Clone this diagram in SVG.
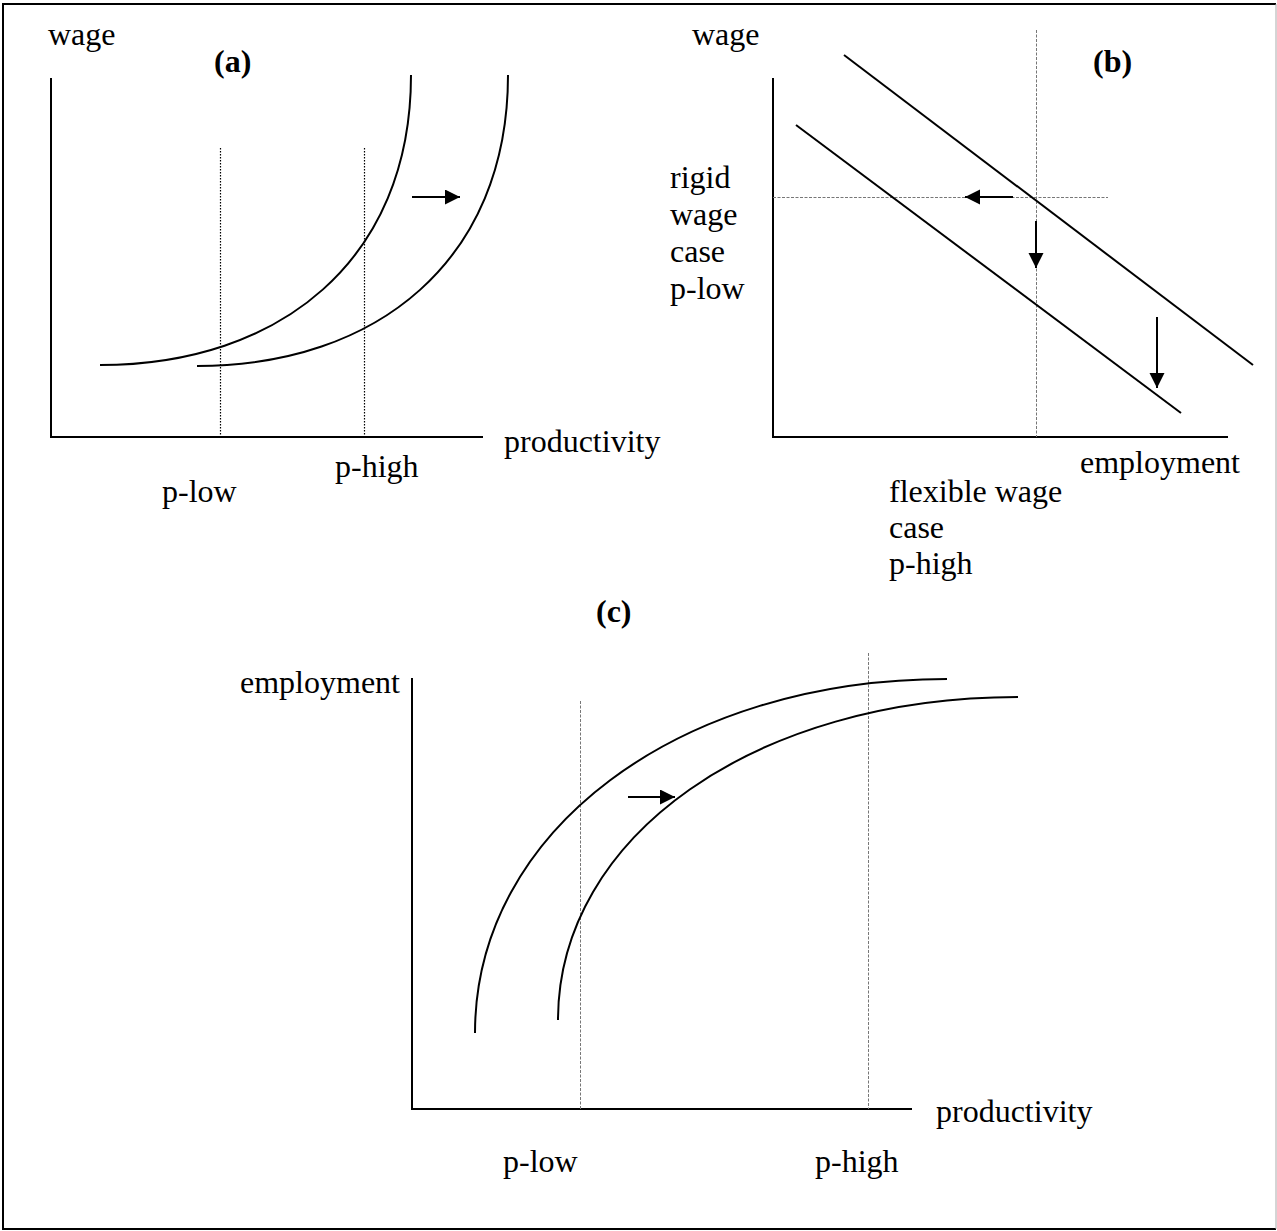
<svg xmlns="http://www.w3.org/2000/svg" width="1277" height="1231" viewBox="0 0 1277 1231">
<style>
text{font-family:"Liberation Serif","Times New Roman",serif;font-size:32px;fill:#000}
.b{font-weight:bold}
.ax{stroke:#000;stroke-width:2;fill:none}
.cv{stroke:#000;stroke-width:2;fill:none}
.dotA{stroke:#000;stroke-width:1.2;stroke-dasharray:1.5 1.5;fill:none}
.dotB{stroke:#777;stroke-width:1;stroke-dasharray:3 1.5;fill:none}
.ar{stroke:#000;stroke-width:2;fill:none;marker-end:url(#ah)}
</style>
<defs>
<marker id="ah" markerUnits="userSpaceOnUse" markerWidth="16" markerHeight="16" refX="15" refY="7.5" orient="auto">
<path d="M0,0 L15,7.5 L0,15 Z" fill="#000"/>
</marker>
</defs>
<rect width="1277" height="1231" fill="#fff"/>
<g id="border">
<path d="M1276,4 L3,4 L3,1229 L1276,1229" fill="none" stroke="#000" stroke-width="2"/>
<line x1="1276" y1="4" x2="1276" y2="1229" stroke="#aaa" stroke-width="1"/>
</g>
<g id="panel-a">
<g id="axes-a">
<line class="ax" x1="51" y1="78" x2="51" y2="437"/>
<line class="ax" x1="50" y1="437" x2="483" y2="437"/>
</g>
<g id="guides-a">
<line class="dotA" x1="220.5" y1="148" x2="220.5" y2="437"/>
<line class="dotA" x1="364.5" y1="148" x2="364.5" y2="437"/>
</g>
<g id="curve-a1"><path class="cv" d="M100,365 C280,365 411,260 411,75"/></g>
<g id="curve-a2"><path class="cv" d="M197,366 C377,366 508,260 508,75"/></g>
<text x="48" y="45">wage</text>
<text class="b" x="214" y="72">(a)</text>
<text x="504" y="452">productivity</text>
<text x="335" y="477">p-high</text>
<text x="162" y="502">p-low</text>
</g>
<g id="panel-b">
<g id="axes-b">
<line class="ax" x1="773" y1="78" x2="773" y2="437"/>
<line class="ax" x1="772" y1="437" x2="1228" y2="437"/>
</g>
<g id="guides-b">
<line class="dotB" x1="1036.5" y1="30" x2="1036.5" y2="437"/>
<line class="dotB" x1="773" y1="197.5" x2="1108" y2="197.5"/>
</g>
<g id="line-b1"><line class="cv" x1="844" y1="55" x2="1253" y2="365"/></g>
<g id="line-b2"><line class="cv" x1="796" y1="125" x2="1181" y2="413"/></g>
<text x="692" y="45">wage</text>
<text class="b" x="1093" y="72">(b)</text>
<text x="670" y="188">rigid</text>
<text x="670" y="225">wage</text>
<text x="670" y="262">case</text>
<text x="670" y="299">p-low</text>
<text x="1080" y="473">employment</text>
<text x="889" y="502">flexible wage</text>
<text x="889" y="538">case</text>
<text x="889" y="574">p-high</text>
</g>
<g id="panel-c">
<g id="axes-c">
<line class="ax" x1="412" y1="678" x2="412" y2="1109"/>
<line class="ax" x1="411" y1="1109" x2="912" y2="1109"/>
</g>
<g id="guides-c">
<line class="dotB" x1="580.5" y1="701" x2="580.5" y2="1109"/>
<line class="dotB" x1="868.5" y1="653" x2="868.5" y2="1109"/>
</g>
<g id="curve-c1"><path class="cv" d="M475,1033 C475,831 678,679 947,679"/></g>
<g id="curve-c2"><path class="cv" d="M558,1020 C558,836 756,697 1018,697"/></g>
<text class="b" x="596" y="622">(c)</text>
<text x="240" y="693">employment</text>
<text x="936" y="1122">productivity</text>
<text x="503" y="1172">p-low</text>
<text x="815" y="1172">p-high</text>
</g>
<g id="connectors">
<line class="ar" x1="412" y1="197" x2="460" y2="197"/>
<line class="ar" x1="1013" y1="197" x2="965" y2="197"/>
<line class="ar" x1="1036" y1="221" x2="1036" y2="268"/>
<line class="ar" x1="1157" y1="317" x2="1157" y2="388"/>
<line class="ar" x1="628" y1="797" x2="675" y2="797"/>
</g>
</svg>
